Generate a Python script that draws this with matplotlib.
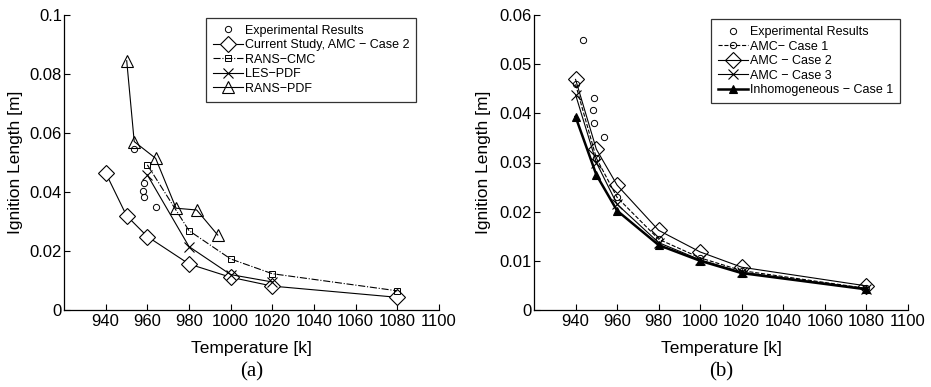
import matplotlib
matplotlib.use("Agg")
import matplotlib.pyplot as plt

plt.rcParams['font.family'] = ['Liberation Sans', 'DejaVu Sans']

# ---- Panel (a) data ----
exp_a_T = [953.7, 958.5, 957.8, 958.5, 964.0]
exp_a_L = [0.0546, 0.0432, 0.0404, 0.0382, 0.0348]
amc2_a_T = [940, 950, 960, 980, 1000, 1020, 1080]
amc2_a_L = [0.0465, 0.0320, 0.0249, 0.0156, 0.0111, 0.0081, 0.0043]
cmc_T = [960, 980, 1000, 1020, 1080]
cmc_L = [0.0492, 0.0269, 0.0173, 0.0123, 0.0065]
les_T = [960, 980, 1000, 1020]
les_L = [0.0458, 0.0215, 0.0120, 0.0095]
rpdf_T = [950.1, 953.7, 964.0, 973.8, 983.7, 993.8]
rpdf_L = [0.0845, 0.0571, 0.0514, 0.0345, 0.0339, 0.0254]

# ---- Panel (b) data ----
exp_b_T = [943.7, 948.9, 948.2, 948.9, 953.8]
exp_b_L = [0.0549, 0.0431, 0.0407, 0.0381, 0.0351]
case_T = [940, 950, 960, 980, 1000, 1020, 1080]
amc1_L = [0.0459, 0.0309, 0.0229, 0.0144, 0.0106, 0.0080, 0.0044]
amc2_L = [0.0469, 0.0327, 0.0254, 0.0162, 0.0118, 0.0087, 0.0049]
amc3_L = [0.0438, 0.0300, 0.0215, 0.0137, 0.0102, 0.0077, 0.0043]
inh1_L = [0.0393, 0.0275, 0.0202, 0.0132, 0.0100, 0.0075, 0.0042]

x_ticks = [940, 960, 980, 1000, 1020, 1040, 1060, 1080, 1100]
ya_ticks = [0, 0.02, 0.04, 0.06, 0.08, 0.1]
ya_labels = ['0', '0.02', '0.04', '0.06', '0.08', '0.1']
yb_ticks = [0, 0.01, 0.02, 0.03, 0.04, 0.05, 0.06]
yb_labels = ['0', '0.01', '0.02', '0.03', '0.04', '0.05', '0.06']

fig = plt.figure(figsize=(9.31, 3.87), dpi=100)
axa = fig.add_axes([64/931, 77/387, 375/931, 295/387])
axb = fig.add_axes([534/931, 77/387, 374/931, 295/387])

lw = 0.8
k = 'black'
axa.plot(exp_a_T, exp_a_L, 'o', ls='none', mfc='none', mec=k, ms=4.5, mew=0.7,
         label='Experimental Results')
axa.plot(amc2_a_T, amc2_a_L, '-', color=k, lw=lw, marker='D', mfc='white', mec=k,
         ms=8, mew=0.8, label='Current Study, AMC \u2212 Case 2')
axa.plot(cmc_T, cmc_L, '-.', color=k, lw=lw, marker='s', mfc='none', mec=k,
         ms=4.2, mew=0.7, label='RANS\u2212CMC')
axa.plot(les_T, les_L, '-', color=k, lw=lw, marker='x', mec=k,
         ms=6.5, mew=0.8, label='LES\u2212PDF')
axa.plot(rpdf_T, rpdf_L, '-', color=k, lw=lw, marker='^', mfc='none', mec=k,
         ms=8.5, mew=0.8, label='RANS\u2212PDF')

axb.plot(exp_b_T, exp_b_L, 'o', ls='none', mfc='none', mec=k, ms=4.5, mew=0.7,
         label='Experimental Results')
axb.plot(case_T, amc1_L, '--', color=k, lw=lw, marker='o', mfc='none', mec=k,
         ms=4.5, mew=0.7, label='AMC\u2212 Case 1')
axb.plot(case_T, amc2_L, '-', color=k, lw=lw, marker='D', mfc='none', mec=k,
         ms=8, mew=0.8, label='AMC \u2212 Case 2')
axb.plot(case_T, amc3_L, '-', color=k, lw=lw, marker='x', mec=k,
         ms=7.5, mew=0.8, label='AMC \u2212 Case 3')
axb.plot(case_T, inh1_L, '-', color=k, lw=1.8, marker='^', mfc=k, mec=k,
         ms=5.5, mew=0.8, label='Inhomogeneous \u2212 Case 1')

panels = [(axa, ya_ticks, ya_labels, 0.1, '(a)', (0.939, 0.99), -0.11),
          (axb, yb_ticks, yb_labels, 0.06, '(b)', (0.979, 0.986), -0.115)]
for ax, yt, yl, ymax, tag, lpos, ylx in panels:
    ax.set_xlim(920, 1100)
    ax.set_ylim(0, ymax)
    ax.set_xticks(x_ticks)
    ax.set_xticklabels([str(t) for t in x_ticks], fontsize=12)
    ax.set_yticks(yt)
    ax.set_yticklabels(yl, fontsize=12)
    ax.tick_params(direction='in', length=4, width=0.8)
    ax.tick_params(axis='x', pad=3)
    ax.tick_params(axis='y', pad=1.5)
    ax.spines['top'].set_visible(False)
    ax.spines['right'].set_visible(False)
    for s in ('left', 'bottom'):
        ax.spines[s].set_linewidth(0.9)
    ax.set_xlabel('Temperature [k]', fontsize=12.5)
    ax.xaxis.set_label_coords(0.5, -0.105)
    ax.set_ylabel('Ignition Length [m]', fontsize=12.5)
    ax.yaxis.set_label_coords(ylx, 0.5)
    ax.text(0.5, -0.21, tag, transform=ax.transAxes, ha='center', va='center',
            fontsize=15, family=['Liberation Serif', 'DejaVu Serif'])
    leg = ax.legend(loc='upper right', bbox_to_anchor=lpos,
                    prop={'size': 9.0},
                    frameon=True, fancybox=False, edgecolor=k, handlelength=2.4,
                    handletextpad=0.15, labelspacing=0.2, borderpad=0.55,
                    borderaxespad=0)
    leg.get_frame().set_linewidth(0.9)

fig.savefig('out.png', dpi=100)
